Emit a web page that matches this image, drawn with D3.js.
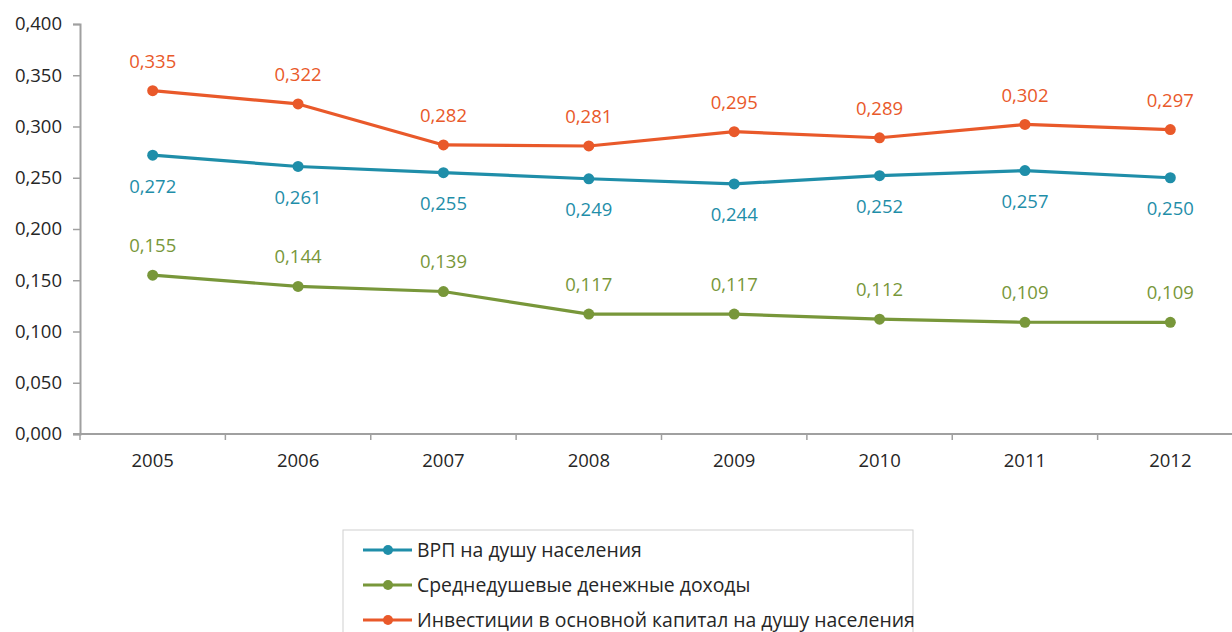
<!DOCTYPE html>
<html>
<head>
<meta charset="utf-8">
<script src="https://cdn.jsdelivr.net/npm/d3@7"></script>
<style>
  body { margin: 0; background: #fff; }
  svg { display: block; font-family: "Open Sans", "Noto Sans", sans-serif; }
</style>
</head>
<body>
<svg id="chart" width="1232" height="632"></svg>
<script>
const years = ['2005', '2006', '2007', '2008', '2009', '2010', '2011', '2012'];
const grpPerCapita = [0.272, 0.261, 0.255, 0.249, 0.244, 0.252, 0.257, 0.250];
const incomePerCapita = [0.155, 0.144, 0.139, 0.117, 0.117, 0.112, 0.109, 0.109];
const investPerCapita = [0.335, 0.322, 0.282, 0.281, 0.295, 0.289, 0.302, 0.297];
const yTicks = [0, 0.05, 0.1, 0.15, 0.2, 0.25, 0.3, 0.35, 0.4];

const series = [
  { name: 'ВРП на душу населения', values: grpPerCapita, color: '#1f8ea9', labelDy: 31 },
  { name: 'Среднедушевые денежные доходы', values: incomePerCapita, color: '#78973a', labelDy: -30 },
  { name: 'Инвестиции в основной капитал на душу населения', values: investPerCapita, color: '#e9592a', labelDy: -29 }
];

const AXIS_COLOR = '#a0a0a0';
const TEXT_COLOR = '#262626';
const FONT_SIZE = 18.5;
const LEGEND_FONT_SIZE = 19.4;

const svg = d3.select('#chart');
const margin = { left: 80, top: 24, bottom: 434 };
// the category axis runs a little past the right edge of the picture
const plotRight = 1243;

const x = d3.scaleBand().domain(years).range([margin.left, plotRight]);
const y = d3.scaleLinear().domain([0, 0.4]).range([margin.bottom, margin.top]);
const fmt = (v) => d3.format('.3f')(v).replace('.', ',');

// y axis
const yAxis = svg.append('g')
  .attr('transform', `translate(${margin.left},0)`)
  .call(d3.axisLeft(y).tickValues(yTicks).tickSize(7).tickPadding(11).tickFormat(fmt));
yAxis.select('.domain').attr('stroke', AXIS_COLOR).attr('stroke-width', 2);
yAxis.selectAll('.tick line').attr('stroke', AXIS_COLOR).attr('stroke-width', 1.5);
yAxis.selectAll('.tick text')
  .attr('fill', TEXT_COLOR)
  .style('font-size', FONT_SIZE + 'px')
  .style('font-family', '"Open Sans", sans-serif');

// x axis: ticks sit on category boundaries
const xAxisG = svg.append('g').attr('transform', `translate(0,${margin.bottom})`);
xAxisG.append('line')
  .attr('x1', margin.left - 7).attr('x2', plotRight)
  .attr('stroke', AXIS_COLOR).attr('stroke-width', 2);
xAxisG.selectAll('.btick')
  .data(years)
  .join('line')
  .attr('class', 'btick')
  .attr('x1', (d) => x(d)).attr('x2', (d) => x(d))
  .attr('y1', 0).attr('y2', 6)
  .attr('stroke', AXIS_COLOR).attr('stroke-width', 1.5);
xAxisG.selectAll('.xlabel')
  .data(years)
  .join('text')
  .attr('class', 'xlabel')
  .attr('x', (d) => x(d) + x.bandwidth() / 2)
  .attr('y', 27)
  .attr('dy', '0.35em')
  .attr('text-anchor', 'middle')
  .attr('fill', TEXT_COLOR)
  .style('font-size', FONT_SIZE + 'px')
  .text((d) => d);

const line = d3.line()
  .x((d, i) => x(years[i]) + x.bandwidth() / 2)
  .y((d) => y(d));

for (const s of series) {
  const g = svg.append('g');
  g.append('path')
    .attr('d', line(s.values))
    .attr('fill', 'none')
    .attr('stroke', s.color)
    .attr('stroke-width', 3.2)
    .attr('stroke-linejoin', 'round');
  g.selectAll('circle')
    .data(s.values)
    .join('circle')
    .attr('cx', (d, i) => x(years[i]) + x.bandwidth() / 2)
    .attr('cy', (d) => y(d))
    .attr('r', 5.5)
    .attr('fill', s.color);
  g.selectAll('text')
    .data(s.values)
    .join('text')
    .attr('x', (d, i) => x(years[i]) + x.bandwidth() / 2)
    .attr('y', (d) => y(d) + s.labelDy)
    .attr('dy', '0.35em')
    .attr('text-anchor', 'middle')
    .attr('fill', s.color)
    .style('font-size', FONT_SIZE + 'px')
    .text((d) => fmt(d));
}

// legend
const legend = svg.append('g').attr('transform', 'translate(343,530)');
legend.append('rect')
  .attr('width', 570).attr('height', 120)
  .attr('fill', '#fff')
  .attr('stroke', '#cfcfcf').attr('stroke-width', 1);
const rows = legend.selectAll('.row')
  .data(series)
  .join('g')
  .attr('class', 'row')
  .attr('transform', (d, i) => `translate(0,${20 + i * 35})`);
rows.append('line')
  .attr('x1', 20).attr('x2', 69)
  .attr('stroke', (d) => d.color).attr('stroke-width', 3.2);
rows.append('circle')
  .attr('cx', 45).attr('r', 5)
  .attr('fill', (d) => d.color);
rows.append('text')
  .attr('x', 74)
  .attr('dy', '0.35em')
  .attr('fill', TEXT_COLOR)
  .style('font-size', LEGEND_FONT_SIZE + 'px')
  .text((d) => d.name);
</script>
</body>
</html>
